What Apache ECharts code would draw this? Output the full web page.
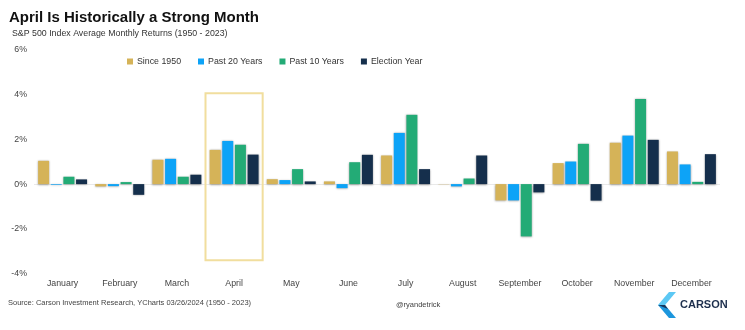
<!DOCTYPE html>
<html>
<head>
<meta charset="utf-8">
<script src="https://cdn.jsdelivr.net/npm/echarts@6/dist/echarts.min.js"></script>
<style>
html,body{margin:0;padding:0;background:#fff;}
#c{width:745px;height:330px;}
</style>
</head>
<body>
<div id="c"></div>
<script>
const months = ['January','February','March','April','May','June','July','August','September','October','November','December'];
const seriesNames = ['Since 1950','Past 20 Years','Past 10 Years','Election Year'];
const since1950 = [1.04, -0.10, 1.09, 1.53, 0.22, 0.12, 1.28, -0.01, -0.73, 0.94, 1.85, 1.46];
const past20 = [-0.03, -0.09, 1.13, 1.93, 0.18, -0.18, 2.29, -0.10, -0.73, 1.01, 2.17, 0.88];
const past10 = [0.33, 0.09, 0.33, 1.76, 0.67, 0.98, 3.10, 0.25, -2.34, 1.80, 3.81, 0.10];
const electionYear = [0.21, -0.48, 0.42, 1.32, 0.12, 1.31, 0.67, 1.28, -0.37, -0.74, 1.98, 1.34];
const yTicks = [-4, -2, 0, 2, 4, 6];
const highlightMonth = 'April';
const highlightRange = [4.06, -3.41];

const colors = ['#D5B358', '#0DA3F7', '#23AB76', '#152F4C'];
const font = "'Liberation Sans', Arial, sans-serif";
const values = [since1950, past20, past10, electionYear];

const chart = echarts.init(document.getElementById('c'));

const series = seriesNames.map((name, i) => {
  const s = {
    name: name,
    type: 'bar',
    data: values[i],
    barWidth: 11,
    barGap: '15%',
    itemStyle: {
      color: colors[i],
      shadowColor: 'rgba(0,0,0,0.35)',
      shadowBlur: 2,
      shadowOffsetY: 0.5
    },
    emphasis: {disabled: true}
  };
  if (i === 0) {
    s.markArea = {
      silent: true,
      itemStyle: {color: 'rgba(0,0,0,0)', borderColor: '#F1DE9E', borderWidth: 2},
      data: [[{xAxis: highlightMonth, yAxis: highlightRange[0]}, {xAxis: highlightMonth, yAxis: highlightRange[1]}]]
    };
  }
  return s;
});

const zeroIdx = yTicks.indexOf(0);
const splitColors = yTicks.map((t, i) => i === zeroIdx ? '#e9e9e9' : 'rgba(0,0,0,0)');

chart.setOption({
  animation: false,
  backgroundColor: '#ffffff',
  textStyle: {fontFamily: font},
  title: [
    {text: 'April Is Historically a Strong Month', left: 9, top: 10, padding: 0,
     textStyle: {fontSize: 15, fontWeight: 'bold', color: '#111', fontFamily: font}},
    {text: 'S&P 500 Index Average Monthly Returns (1950 - 2023)', left: 12, top: 29, padding: 0,
     textStyle: {fontSize: 8.8, fontWeight: 'normal', color: '#333', fontFamily: font}},
    {text: 'Source: Carson Investment Research, YCharts 03/26/2024 (1950 - 2023)', left: 8, top: 299, padding: 0,
     textStyle: {fontSize: 7.5, fontWeight: 'normal', color: '#444', fontFamily: font}},
    {text: '@ryandetrick', left: 396, top: 301, padding: 0,
     textStyle: {fontSize: 7.5, fontWeight: 'normal', color: '#444', fontFamily: font}}
  ],
  legend: {
    data: seriesNames,
    left: 127,
    top: 57,
    padding: 0,
    itemWidth: 6,
    itemHeight: 6,
    itemGap: 17,
    icon: 'rect',
    textStyle: {fontSize: 8.8, color: '#333', fontFamily: font, padding: [0, 0, 0, -1]}
  },
  grid: {left: 34, right: 25, top: 50, bottom: 56.5},
  xAxis: {
    type: 'category',
    data: months,
    axisLine: {show: false, onZero: false},
    axisTick: {show: false},
    axisLabel: {fontSize: 8.8, color: '#444', margin: 6, fontFamily: font, interval: 0}
  },
  yAxis: {
    type: 'value',
    min: yTicks[0],
    max: yTicks[yTicks.length - 1],
    interval: 2,
    axisLine: {show: false},
    axisTick: {show: false},
    axisLabel: {fontSize: 8.8, color: '#444', margin: 7, fontFamily: font, formatter: v => v + '%'},
    splitLine: {show: true, lineStyle: {color: splitColors, width: 1}}
  },
  series: series,
  graphic: [
    {type: 'polygon', shape: {points: [[669,292],[676,292],[665,305],[658,305]]}, style: {fill: '#5CC8F4'}},
    {type: 'polygon', shape: {points: [[658,305],[665,305],[676,318],[669,318]]}, style: {fill: '#1C96DD'}},
    {type: 'polygon', shape: {points: [[658,305],[665,305],[668,309]]}, style: {fill: '#17355A'}},
    {type: 'text', left: 680, top: 299, style: {text: 'CARSON', fontSize: 11, fontWeight: 'bold', fill: '#1D2F4D', fontFamily: font, letterSpacing: 2.5}}
  ]
});
</script>
</body>
</html>
